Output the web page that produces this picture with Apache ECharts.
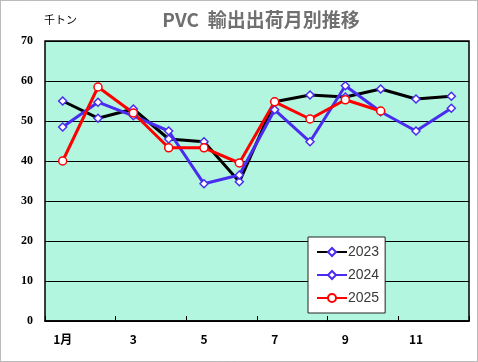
<!DOCTYPE html>
<html><head><meta charset="utf-8">
<script src="https://cdn.jsdelivr.net/npm/echarts@6/dist/echarts.min.js"></script>
<style>html,body{margin:0;padding:0;background:#fff}#c{width:478px;height:362px}</style>
</head><body><div id="c"></div>
<script>
const months = ['1','2','3','4','5','6','7','8','9','10','11','12'];
const yTicks = [0,10,20,30,40,50,60,70];
const s2023 = [55, 50.7, 53, 45.5, 44.8, 34.8, 54.8, 56.5, 56, 58, 55.5, 56.2];
const s2024 = [48.5, 54.7, 51.3, 47.5, 34.3, 36.5, 52.8, 44.8, 58.8, 52.3, 47.5, 53.2];
const s2025 = [40, 58.5, 52, 43.3, 43.3, 39.5, 54.8, 50.5, 55.3, 52.5, null, null];

const chart = echarts.init(document.getElementById('c'), null, {renderer:'canvas'});
const blue = '#4a2cf0';
function mk(name, data, color, symbol, symColor){
  return {name, type:'line', data, color,
    lineStyle:{width:3, color},
    itemStyle:{color:'#fff', borderColor:symColor, borderWidth:1.5},
    symbol, symbolSize: symbol==='circle'?8:8, showAllSymbol:true,
    connectNulls:false, z: 3};
}
chart.setOption({
  animation:false,
  backgroundColor:'#fff',
  title:{text:'PVC  輸出出荷月別推移', left:256, top:5, textAlign:'center',
    textStyle:{fontSize:19, fontWeight:'bold', color:'#707070', fontFamily:'Noto Sans CJK JP'}},
  graphic:[
    {type:'rect', shape:{x:0.5,y:0.5,width:477,height:361}, style:{fill:null, stroke:'#777', lineWidth:1, lineDash:[1,1]}, z:-1},
    {type:'text', left:44, top:14, style:{text:'千トン', fontSize:11, fill:'#000', fontFamily:'Noto Sans CJK JP'}}
  ],
  grid:{left:45, right:9, top:41, bottom:41, show:true, backgroundColor:'#b2f6e0', borderColor:'#000', borderWidth:1.5},
  legend:{orient:'vertical', left:308, top:237, width:70, height:70,
    backgroundColor:'#fff', borderColor:'#222', borderWidth:1, padding:[8,6,8,8], itemGap:9,
    itemWidth:30, itemHeight:10,
    textStyle:{fontSize:14, color:'#3a3a3a', fontFamily:'Liberation Sans', padding:[0,0,0,-4]},
    data:['2023','2024','2025']},
  xAxis:{type:'category', data:months, boundaryGap:true,
    axisLine:{show:true, lineStyle:{color:'#000', width:1.5}},
    axisTick:{show:true, inside:true, length:5, lineStyle:{color:'#000'}},
    axisLabel:{interval:1, margin:12, fontSize:12, fontWeight:'bold', color:'#000', fontFamily:'Noto Sans CJK JP',
      formatter:(v)=> v==='1' ? '1月' : v},
    splitLine:{show:false}},
  yAxis:{type:'value', min:0, max:70, interval:10,
    axisLine:{show:false}, axisTick:{show:false},
    axisLabel:{margin:12, fontSize:12, fontWeight:'bold', color:'#000', fontFamily:'Liberation Serif',
      formatter:(v)=> yTicks.includes(v) ? String(v) : ''},
    splitLine:{show:true, lineStyle:{color:'#000', width:1}}},
  series:[
    mk('2023', s2023, '#000', 'diamond', blue),
    mk('2024', s2024, blue, 'diamond', blue),
    mk('2025', s2025, '#ff0000', 'circle', '#ff0000')
  ]
});
</script></body></html>
